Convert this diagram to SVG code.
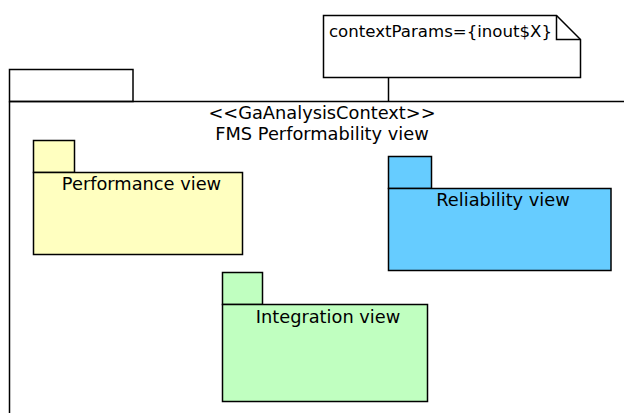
<svg xmlns="http://www.w3.org/2000/svg" width="624" height="413" viewBox="0 0 624 413">
  <style>
    .ln { stroke: #000; stroke-width: 1.5; }
    .pkg { stroke: #000; stroke-width: 1.5; }
    .txt { font-family: "DejaVu Sans", "Liberation Sans", sans-serif; font-size: 17.8px; fill: #000; }
    .note { font-size: 16.6px; }
    .mid { text-anchor: middle; }
  </style>
  <rect width="624" height="413" fill="#fff"/>

  <!-- analysis context package -->
  <g id="fms-context">
    <rect class="pkg" x="9.5" y="69.5" width="123.5" height="32" fill="#fff"/>
    <path class="ln" d="M9.5 101.5 H630 M9.5 101.5 V420" fill="none"/>
    <text class="txt mid" x="322" y="119">&lt;&lt;GaAnalysisContext&gt;&gt;</text>
    <text class="txt mid" x="322" y="140">FMS Performability view</text>
  </g>

  <!-- note attached to context -->
  <g id="note">
    <path class="ln" d="M323.5 15.5 H556.5 L580.5 39.5 V77.5 H323.5 Z" fill="#fff"/>
    <path class="ln" d="M556.5 15.5 V39.5 H580.5" fill="none"/>
    <text class="txt note" x="329" y="37">contextParams={inout$X}</text>
  </g>

  <g id="connectors">
    <line class="ln" x1="388.5" y1="77.5" x2="388.5" y2="101.5"/>
  </g>

  <g id="performance-view">
    <rect class="pkg" x="33.5" y="140.5" width="41" height="32" fill="#ffffc0"/>
    <rect class="pkg" x="33.5" y="172.5" width="209" height="82" fill="#ffffc0"/>
    <text class="txt mid" x="141.5" y="190">Performance view</text>
  </g>

  <g id="reliability-view">
    <rect class="pkg" x="388.5" y="156.5" width="43" height="32" fill="#66ccff"/>
    <rect class="pkg" x="388.5" y="188.5" width="222.5" height="82" fill="#66ccff"/>
    <text class="txt mid" x="503" y="206">Reliability view</text>
  </g>

  <g id="integration-view">
    <rect class="pkg" x="222.5" y="272.5" width="40" height="32" fill="#c0ffc0"/>
    <rect class="pkg" x="222.5" y="304.5" width="205" height="97" fill="#c0ffc0"/>
    <text class="txt mid" x="328" y="323">Integration view</text>
  </g>
</svg>
